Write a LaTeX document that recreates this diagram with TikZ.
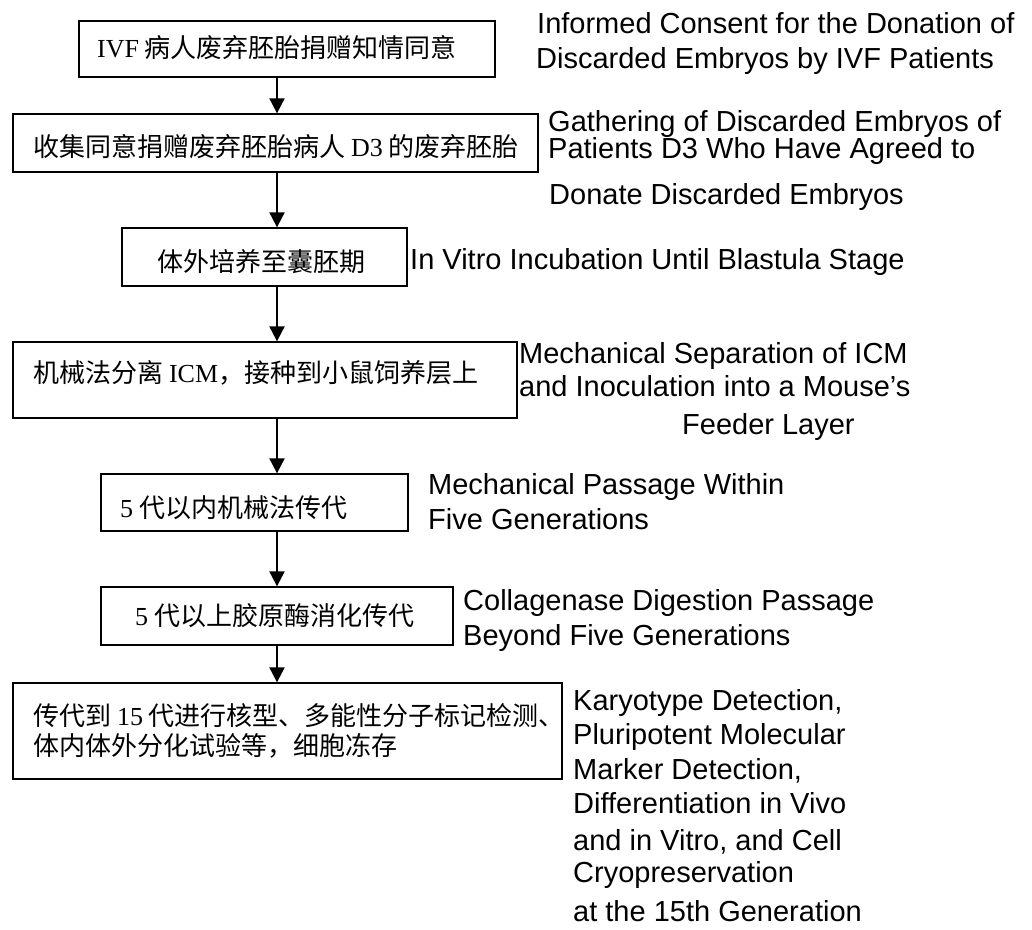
\documentclass[tikz,border=0pt]{standalone}
\usepackage{fontspec}
\setmainfont{Liberation Sans}
\newfontfamily\cjk{Noto Sans CJK SC}
\newfontfamily\lser{Liberation Serif}
\usetikzlibrary{arrows.meta}
\tikzset{
  flowbox/.style={draw, line width=1.3pt, rectangle, inner sep=0pt},
  ctext/.style={anchor=base west, inner sep=0pt, font=\cjk\fontsize{26pt}{31pt}\selectfont},
  etext/.style={anchor=base west, inner sep=0pt, font=\fontsize{29pt}{35pt}\selectfont},
  flowarrow/.style={line width=2pt, -{Triangle[width=15pt,length=15pt]}}
}
\begin{document}
\begin{tikzpicture}[x=1pt,y=1pt]
\useasboundingbox[fill=white] (0,0) rectangle (1032,-929);

% boxes
\node[flowbox, minimum width=416pt, minimum height=56pt] (b1) at (287,-49) {};
\node[flowbox, minimum width=525pt, minimum height=58pt] (b2) at (275.5,-143) {};
\node[flowbox, minimum width=285pt, minimum height=58pt] (b3) at (264.5,-257) {};
\node[flowbox, minimum width=504pt, minimum height=76pt] (b4) at (265,-380) {};
\node[flowbox, minimum width=307pt, minimum height=57pt] (b5) at (254.5,-502.5) {};
\node[flowbox, minimum width=352pt, minimum height=58pt] (b6) at (277,-616) {};
\node[flowbox, minimum width=549pt, minimum height=96pt] (b7) at (287.5,-731) {};

% box texts
\node[ctext] (t1) at (97,-57.5) {{\lser IVF} 病人废弃胚胎捐赠知情同意};
\node[ctext] (t2) at (33,-156) {收集同意捐赠废弃胚胎病人 {\lser D3} 的废弃胚胎};
\node[ctext] (t3) at (157,-271) {体外培养至囊胚期};
\node[ctext] (t4) at (33,-382) {机械法分离 {\lser ICM}，接种到小鼠饲养层上};
\node[ctext] (t5) at (120,-517) {{\lser 5} 代以内机械法传代};
\node[ctext] (t6) at (135,-625) {{\lser 5} 代以上胶原酶消化传代};
\node[ctext] (t7a) at (33,-725) {传代到 {\lser 15} 代进行核型、多能性分子标记检测、};
\node[ctext] (t7b) at (33,-755) {体内体外分化试验等，细胞冻存};

% arrows
\coordinate (ax) at (277,0);
\draw[flowarrow] (b1.south -| ax) -- (b2.north -| ax);
\draw[flowarrow] (b2.south -| ax) -- (b3.north -| ax);
\draw[flowarrow] (b3.south -| ax) -- (b4.north -| ax);
\draw[flowarrow] (b4.south -| ax) -- (b5.north -| ax);
\draw[flowarrow] (b5.south -| ax) -- (b6.north -| ax);
\draw[flowarrow] (b6.south -| ax) -- (b7.north -| ax);

% English texts
\node[etext] (e1a) at (537,-33) {Informed Consent for the Donation of};
\node[etext] (e1b) at (536,-68) {Discarded Embryos by IVF Patients};
\node[etext] (e2a) at (548,-131) {Gathering of Discarded Embryos of};
\node[etext] (e2b) at (548,-158) {Patients D3 Who Have Agreed to};
\node[etext] (e2c) at (549,-204) {Donate Discarded Embryos};
\node[etext] (e3) at (410,-269) {In Vitro Incubation Until Blastula Stage};
\node[etext] (e4a) at (519,-363) {Mechanical Separation of ICM};
\node[etext] (e4b) at (519,-396) {and Inoculation into a Mouse’s};
\node[etext] (e4c) at (682,-434) {Feeder Layer};
\node[etext] (e5a) at (428,-494) {Mechanical Passage Within};
\node[etext] (e5b) at (428,-529) {Five Generations};
\node[etext] (e6a) at (463,-610) {Collagenase Digestion Passage};
\node[etext] (e6b) at (463,-645) {Beyond Five Generations};
\node[etext] (e7a) at (573,-710) {Karyotype Detection,};
\node[etext] (e7b) at (573,-744) {Pluripotent Molecular};
\node[etext] (e7c) at (573,-779) {Marker Detection,};
\node[etext] (e7d) at (573,-813) {Differentiation in Vivo};
\node[etext] (e7e) at (573,-850) {and in Vitro, and Cell};
\node[etext] (e7f) at (573,-882) {Cryopreservation};
\node[etext] (e7g) at (573,-921) {at the 15th Generation};
\end{tikzpicture}
\end{document}
